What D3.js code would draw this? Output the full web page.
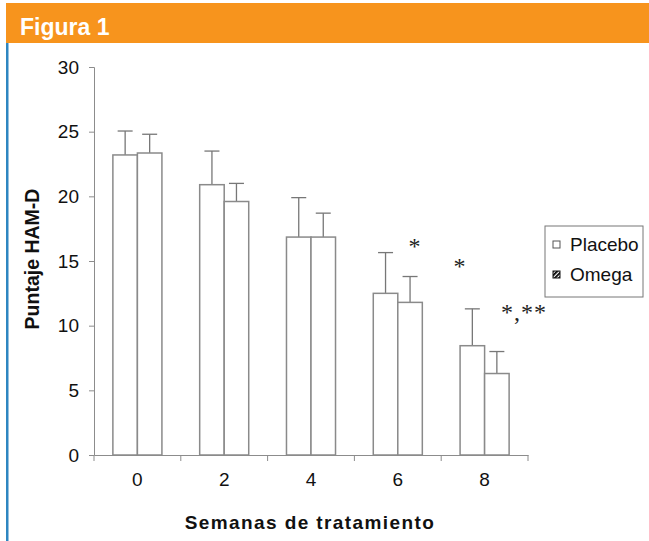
<!DOCTYPE html>
<html><head><meta charset="utf-8">
<script src="https://cdn.jsdelivr.net/npm/d3@7"></script>
<style>body{margin:0;background:#fff}svg{display:block}</style>
</head><body>
<script>
const weeks = ["0", "2", "4", "6", "8"];
const seriesNames = ["Placebo", "Omega"];
const placebo = [23.2, 20.9, 16.85, 12.5, 8.45];
const placeboErr = [1.85, 2.6, 3.05, 3.15, 2.85];
const omega = [23.35, 19.6, 16.85, 11.8, 6.3];
const omegaErr = [1.45, 1.4, 1.85, 2.0, 1.7];
const yTicks = [0, 5, 10, 15, 20, 25, 30];
const annotText = ["*", "*", "*,**"];
const annotWeek = ["6", "8", "8"];
const annotValue = [16.3, 14.8, 11.2];

const W = 649, H = 541;
const svg = d3.select("body").append("svg").attr("width", W).attr("height", H);

// header
svg.append("rect").attr("x", 6).attr("y", 3).attr("width", W - 6).attr("height", 40).attr("fill", "#F7941D");
svg.append("rect").attr("x", 6).attr("y", 43).attr("width", 2.5).attr("height", H - 43).attr("fill", "#2E86C1");
svg.append("text").attr("x", 20).attr("y", 35).text("Figura 1")
  .attr("fill", "#fff").attr("font-family", "'Liberation Sans Narrow', 'Liberation Sans', Arial, sans-serif")
  .attr("font-weight", "bold").attr("font-size", 23);

const x = d3.scaleBand().domain(weeks).range([94, 528]).padding(0);
const xs = d3.scaleBand().domain(seriesNames).range([0, x.bandwidth()]).paddingInner(0).paddingOuter(0.77);
const y = d3.scaleLinear().domain([0, 30]).range([455, 67]);

const gray = "#8c8c8c";
const font = "'Liberation Sans', Arial, sans-serif";

// y axis
const ya = svg.append("g").attr("transform", "translate(94,0)")
  .call(d3.axisLeft(y).tickValues(yTicks).tickSize(5).tickPadding(10));
ya.select(".domain").attr("stroke", gray);
ya.selectAll(".tick line").attr("stroke", gray);
ya.selectAll("text").attr("font-family", font).attr("font-size", 19).attr("fill", "#111");

// x axis
const xa = svg.append("g").attr("transform", "translate(0,455)")
  .call(d3.axisBottom(x).tickSize(0).tickPadding(18).tickSizeOuter(0));
xa.select(".domain").attr("stroke", gray);
xa.selectAll("text").attr("font-family", font).attr("font-size", 19).attr("fill", "#111");
const edges = weeks.map(w => x(w)).concat([x.range()[1]]);
svg.append("g").selectAll("line").data(edges).join("line")
  .attr("x1", d => d).attr("x2", d => d).attr("y1", 455).attr("y2", 461).attr("stroke", gray);

// bars
const data = [];
weeks.forEach((w, i) => {
  data.push({w, s: "Placebo", v: placebo[i], e: placeboErr[i]});
  data.push({w, s: "Omega", v: omega[i], e: omegaErr[i]});
});
const g = svg.append("g");
g.selectAll("line.err").data(data).join("line").attr("class", "err")
  .attr("x1", d => x(d.w) + xs(d.s) + xs.bandwidth() / 2)
  .attr("x2", d => x(d.w) + xs(d.s) + xs.bandwidth() / 2)
  .attr("y1", d => y(d.v)).attr("y2", d => y(d.v + d.e))
  .attr("stroke", "#777").attr("stroke-width", 1.3);
g.selectAll("line.cap").data(data).join("line").attr("class", "cap")
  .attr("x1", d => x(d.w) + xs(d.s) + xs.bandwidth() / 2 - 7.5)
  .attr("x2", d => x(d.w) + xs(d.s) + xs.bandwidth() / 2 + 7.5)
  .attr("y1", d => y(d.v + d.e)).attr("y2", d => y(d.v + d.e))
  .attr("stroke", "#777").attr("stroke-width", 1.3);
g.selectAll("rect.bar").data(data).join("rect").attr("class", "bar")
  .attr("x", d => x(d.w) + xs(d.s))
  .attr("y", d => y(d.v))
  .attr("width", xs.bandwidth())
  .attr("height", d => y(0) - y(d.v))
  .attr("fill", "#fff").attr("stroke", "#8a8a8a").attr("stroke-width", 1.5);

// annotations
const annX = [
  x(annotWeek[0]) + xs("Omega") + xs.bandwidth() / 2 + 5,
  x(annotWeek[1]) + xs("Placebo"),
  x(annotWeek[2]) + xs("Omega") + xs.bandwidth() - 8
];
const anchors = ["middle", "middle", "start"];
svg.append("g").selectAll("text").data(annotText).join("text")
  .attr("x", (d, i) => annX[i]).attr("y", (d, i) => y(annotValue[i]) + 10)
  .attr("text-anchor", (d, i) => anchors[i])
  .attr("font-family", "'Liberation Serif', 'Times New Roman', serif")
  .attr("font-size", 24).attr("fill", "#222")
  .attr("letter-spacing", 1)
  .text(d => d);

// axis titles
svg.append("text").attr("transform", "translate(39,259) rotate(-90)")
  .attr("text-anchor", "middle").attr("font-family", font).attr("font-weight", "bold")
  .attr("font-size", 19.5).attr("fill", "#111").text("Puntaje HAM-D");
svg.append("text").attr("x", 310).attr("y", 529)
  .attr("text-anchor", "middle").attr("font-family", font).attr("font-weight", "bold")
  .attr("font-size", 19).attr("letter-spacing", 1.4).attr("fill", "#111").text("Semanas de tratamiento");

// legend
const defs = svg.append("defs");
const pat = defs.append("pattern").attr("id", "hatch").attr("patternUnits", "userSpaceOnUse")
  .attr("width", 3).attr("height", 3).attr("patternTransform", "rotate(45)");
pat.append("rect").attr("width", 3).attr("height", 3).attr("fill", "#fff");
pat.append("rect").attr("width", 1.8).attr("height", 3).attr("fill", "#000");
const lg = svg.append("g");
lg.append("rect").attr("x", 545).attr("y", 226).attr("width", 98).attr("height", 71)
  .attr("fill", "#fff").attr("stroke", "#777").attr("stroke-width", 1);
seriesNames.forEach((s, i) => {
  const yy = 241 + i * 30;
  lg.append("rect").attr("x", 553).attr("y", yy).attr("width", 7).attr("height", 7)
    .attr("fill", i === 0 ? "#fff" : "url(#hatch)").attr("stroke", i === 0 ? "#555" : "#111").attr("stroke-width", 1);
  lg.append("text").attr("x", 570).attr("y", yy + 10).attr("font-family", font)
    .attr("font-size", 19).attr("fill", "#111").text(s);
});
</script>
</body></html>
